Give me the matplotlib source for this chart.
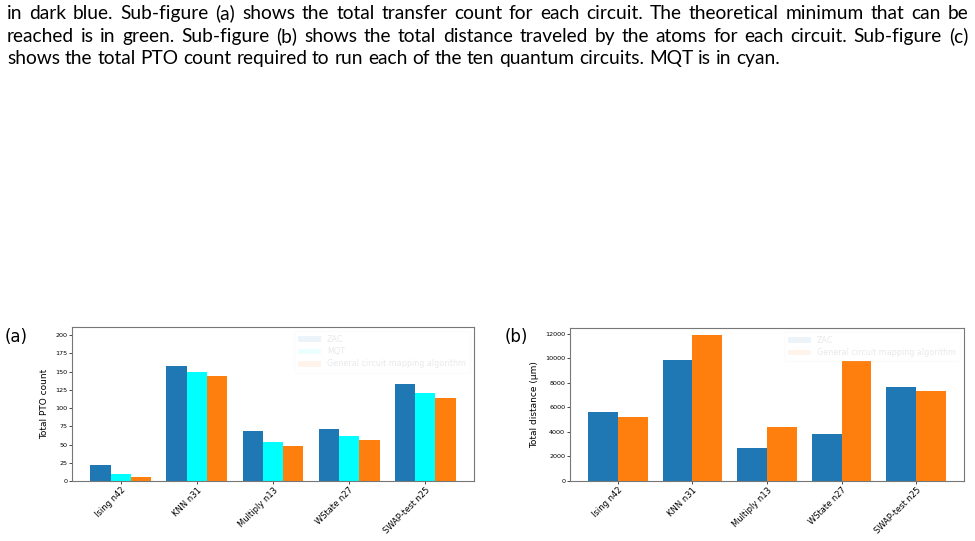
import matplotlib
matplotlib.use("Agg")
import matplotlib.pyplot as plt
import numpy as np

W, H = 975, 541
DPI = 100

circuits = ["Ising n42", "KNN n31", "Multiply n13", "WState n27", "SWAP-test n25"]

# (a) Total PTO count
pto_zac = [22, 157, 68, 71, 133]
pto_mqt = [10, 149, 54, 62, 121]
pto_general = [6, 144, 48, 56, 114]

# (b) Total distance (um)
dist_zac = [5650, 9810, 2680, 3840, 7620]
dist_general = [5220, 11860, 4380, 9760, 7300]

caption_lines = [
    "in dark blue.  Sub-figure (a) shows the total transfer count for each circuit.  The theoretical minimum that can be",
    "reached is in green.  Sub-figure (b) shows the total distance traveled by the atoms for each circuit.  Sub-figure (c)",
    "shows the total PTO count required to run each of the ten quantum circuits.  MQT is in cyan.",
]

BLUE = "#1f77b4"
CYAN = "#00ffff"
ORANGE = "#ff7f0e"

fig = plt.figure(figsize=(W / DPI, H / DPI), dpi=DPI)

TICK_FS = 4.6
XT_FS = 6.0
LAB_FS = 6.5
LEG_FS = 5.8

def px_axes(l, t, r, b):
    return fig.add_axes([l / W, (H - b) / H, (r - l) / W, (b - t) / H])

# ---------- (a) ----------
axa = px_axes(72, 327, 474, 481)
x = np.arange(len(circuits))
w = 0.8 / 3
axa.bar(x - w, pto_zac, w, color=BLUE, label="ZAC")
axa.bar(x, pto_mqt, w, color=CYAN, label="MQT")
axa.bar(x + w, pto_general, w, color=ORANGE, label="General circuit mapping algorithm")
axa.set_ylim(0, 211)
axa.set_yticks(np.arange(0, 201, 25))
axa.set_xticks(x)
axa.set_xticklabels(circuits, rotation=45, ha="right", rotation_mode="anchor", fontsize=XT_FS)
axa.set_ylabel("Total PTO count", fontsize=LAB_FS, labelpad=4)

# ---------- (b) ----------
axb = px_axes(570, 328, 964, 481)
w2 = 0.4
axb.bar(x - w2 / 2, dist_zac, w2, color=BLUE, label="ZAC")
axb.bar(x + w2 / 2, dist_general, w2, color=ORANGE, label="General circuit mapping algorithm")
axb.set_yticks(np.arange(0, 12001, 2000))
axb.set_xticks(x)
axb.set_xticklabels(circuits, rotation=45, ha="right", rotation_mode="anchor", fontsize=XT_FS)
axb.set_ylabel("Total distance (\u03bcm)", fontsize=LAB_FS, labelpad=4)

for ax in (axa, axb):
    ax.tick_params(axis="y", labelsize=TICK_FS, length=2, width=0.5, pad=1.5)
    ax.tick_params(axis="x", length=2, width=0.5, pad=1.5)
    for s in ax.spines.values():
        s.set_color("#777777")
        s.set_linewidth(0.8)
    leg = ax.legend(loc="upper right", fontsize=LEG_FS, framealpha=0.05,
                    handlelength=2.8, borderpad=0.5, labelspacing=0.4)
    for t in leg.get_texts():
        t.set_alpha(0.09)
    for p in leg.get_patches():
        p.set_alpha(0.08)
    leg.get_frame().set_alpha(0.08)

fig.text(5 / W, (H - 337) / H, "(a)", fontsize=12, va="center", ha="left")
fig.text(505 / W, (H - 337) / H, "(b)", fontsize=12, va="center", ha="left")

# ---------- caption (justified) ----------
CAP_FS = 13.8
CAP_FAMILY = "Lato"
fig.canvas.draw()
r = fig.canvas.get_renderer()

def width_of(s):
    t = fig.text(0, 0, s, fontsize=CAP_FS, family=CAP_FAMILY)
    wdt = t.get_window_extent(r).width
    t.remove()
    return wdt

space_w = width_of("x x") - width_of("xx")
x0, x1 = 7, 968
baselines = [19, 42, 64]
for i, line in enumerate(caption_lines):
    words = line.split()
    widths = [width_of(wd) for wd in words]
    if i < len(caption_lines) - 1:
        gap = (x1 - x0 - sum(widths)) / (len(words) - 1)
    else:
        gap = space_w
    cx = x0
    for wd, wdt in zip(words, widths):
        fig.text(cx / W, (H - baselines[i]) / H, wd, fontsize=CAP_FS,
                 family=CAP_FAMILY, va="baseline", ha="left")
        cx += wdt + gap

fig.savefig("out.png", dpi=DPI)
